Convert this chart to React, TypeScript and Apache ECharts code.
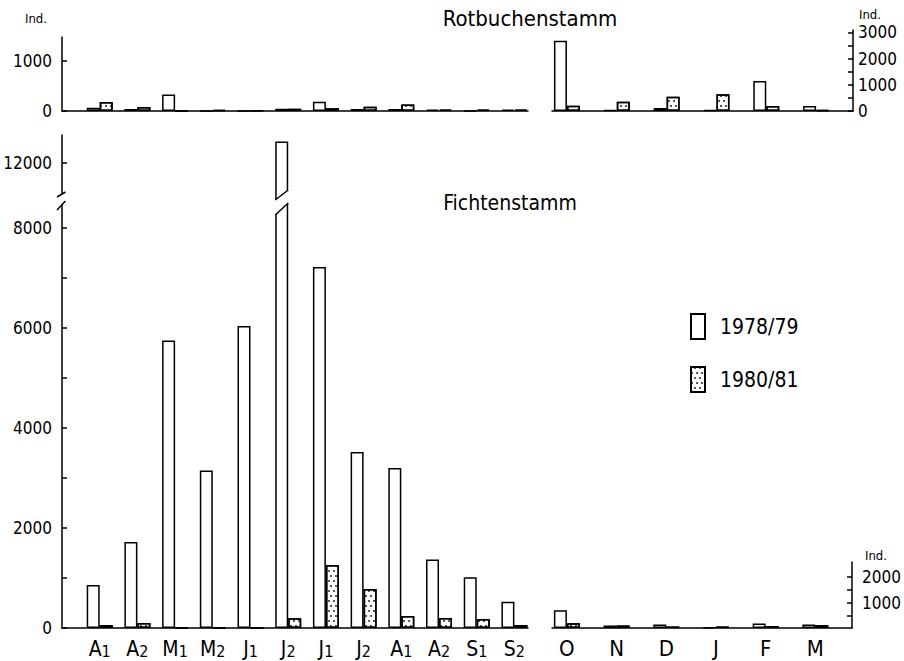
import React, { useEffect, useRef } from 'react';
import * as echarts from 'echarts';

const FONT = "'DejaVu Sans Condensed', 'DejaVu Sans', sans-serif";

// Categories
const summerLabels = ['A1', 'A2', 'M1', 'M2', 'J1', 'J2', 'J1', 'J2', 'A1', 'A2', 'S1', 'S2'];
const winterLabels = ['O', 'N', 'D', 'J', 'F', 'M'];
const seriesNames = ['1978/79', '1980/81'];

// Rotbuchenstamm (beech trunk), individuals
const beechSummer7879 = [65, 40, 330, 0, 0, 45, 185, 40, 40, 30, 0, 30];
const beechSummer8081 = [180, 80, 0, 25, 10, 45, 55, 85, 130, 30, 30, 30];
const beechWinter7879 = [2680, 40, 115, 40, 1140, 190];
const beechWinter8081 = [200, 355, 545, 635, 190, 40];

// Fichtenstamm (spruce trunk), individuals
const spruceSummer7879 = [860, 1720, 5750, 3150, 6040, 12420, 7220, 3520, 3200, 1370, 1015, 525];
const spruceSummer8081 = [60, 100, 0, 0, 0, 195, 1260, 780, 240, 200, 180, 60];
const spruceWinter7879 = [700, 100, 140, 20, 180, 140];
const spruceWinter8081 = [190, 100, 60, 60, 80, 110];

// Tick labels / tick positions
const beechSummerLabels = [0, 1000];
const beechSummerTicks = [0, 1000];
const beechWinterLabels = [0, 1000, 2000, 3000];
const beechWinterTicks = [0, 500, 1000, 1500, 2000, 2500, 3000];
const spruceUpperLabels = [12000];
const spruceLowerLabels = [0, 2000, 4000, 6000, 8000];
const spruceLowerTicks = [0, 1000, 2000, 3000, 4000, 5000, 6000, 7000, 8000];
const spruceWinterLabels = [1000, 2000];
const spruceWinterTicks = [500, 1000, 1500, 2000];

// Axis ranges
const SUMMER_X_MIN = -1;
const SUMMER_X_MAX = 11.36;
const WINTER_X_MIN = -0.3;
const WINTER_X_MAX = 5.74;
const SPRUCE_UPPER_MIN = 11250;
const SPRUCE_UPPER_MAX = 12550;
const SPRUCE_LOWER_MAX = 8500;

const BAR_W = 13;

const whiteStyle = { color: '#fff', borderColor: '#000', borderWidth: 1.5 };
const dotStyle = {
  color: '#fff',
  borderColor: '#000',
  borderWidth: 1.5,
  decal: {
    symbol: 'circle',
    symbolSize: 0.8,
    color: '#000',
    backgroundColor: '#fff',
    dashArrayX: [[2, 3], [0, 3, 2, 0]],
    dashArrayY: [2, 3],
    rotation: 0,
  },
};

const pairs = (arr: number[]) => arr.map((v, i) => [i, v]);

function bars(name: string, data: number[], style: any, axis: number) {
  return {
    type: 'bar',
    name,
    data: pairs(data),
    xAxisIndex: axis,
    yAxisIndex: axis,
    barWidth: BAR_W,
    barGap: '0%',
    clip: true,
    silent: true,
    itemStyle: style,
    emphasis: { disabled: true },
  };
}

const black = { color: '#000', width: 1.5 };

function xAxis(grid: number, min: number, max: number, opts: any = {}) {
  return {
    type: 'value',
    gridIndex: grid,
    min,
    max,
    splitLine: { show: false },
    axisTick: { show: false },
    axisLine: { show: true, onZero: false, lineStyle: black },
    axisLabel: { show: false },
    ...opts,
  };
}

function yAxis(grid: number, min: number, max: number, pos: string, labels: number[], ticks: number[], margin: number) {
  return {
    type: 'value',
    gridIndex: grid,
    min,
    max,
    position: pos,
    splitLine: { show: false },
    axisLine: { show: true, onZero: false, lineStyle: black },
    axisTick: { show: true, inside: true, length: 5, customValues: ticks, lineStyle: black },
    axisLabel: {
      show: true,
      customValues: labels,
      margin,
      formatter: (v: number) => String(v),
      color: '#000',
      fontSize: 17,
      fontFamily: FONT,
    },
  };
}

function buildOption() {
  return {
    animation: false,
    backgroundColor: '#fff',
    grid: [
      { left: 62, top: 37, width: 466, height: 74 },
      { left: 552, top: 30, width: 301, height: 81 },
      { left: 62, top: 135, width: 466, height: 65 },
      { left: 62, top: 203, width: 466, height: 425 },
      { left: 552, top: 562, width: 301, height: 66 },
    ],
    xAxis: [
      xAxis(0, SUMMER_X_MIN, SUMMER_X_MAX),
      xAxis(1, WINTER_X_MIN, WINTER_X_MAX),
      xAxis(2, SUMMER_X_MIN, SUMMER_X_MAX, { show: false }),
      xAxis(3, SUMMER_X_MIN, SUMMER_X_MAX, {
        axisLabel: {
          show: true,
          customValues: summerLabels.map((_, i) => i),
          margin: 9,
          formatter: (v: number) => {
            const s = summerLabels[Math.round(v)] || '';
            return `{m|${s.slice(0, 1)}}{s|${s.slice(1)}}`;
          },
          rich: {
            m: { fontSize: 21, fontFamily: FONT, color: '#000', lineHeight: 22, verticalAlign: 'bottom' },
            s: { fontSize: 16, fontFamily: FONT, color: '#000', lineHeight: 22, verticalAlign: 'bottom' },
          },
        },
      }),
      xAxis(4, WINTER_X_MIN, WINTER_X_MAX, {
        axisLabel: {
          show: true,
          customValues: winterLabels.map((_, i) => i),
          margin: 9,
          formatter: (v: number) => winterLabels[Math.round(v)] || '',
          color: '#000',
          fontSize: 22,
          fontFamily: FONT,
        },
      }),
    ],
    yAxis: [
      yAxis(0, 0, 1480, 'left', beechSummerLabels, beechSummerTicks, 10),
      yAxis(1, 0, 3090, 'right', beechWinterLabels, beechWinterTicks, 5),
      yAxis(2, SPRUCE_UPPER_MIN, SPRUCE_UPPER_MAX, 'left', spruceUpperLabels, spruceUpperLabels, 10),
      yAxis(3, 0, SPRUCE_LOWER_MAX, 'left', spruceLowerLabels, spruceLowerTicks, 10),
      yAxis(4, 0, 2600, 'right', spruceWinterLabels, spruceWinterTicks, 10),
    ],
    legend: {
      orient: 'vertical',
      left: 690,
      top: 313,
      padding: 0,
      itemWidth: 14,
      itemHeight: 25,
      itemGap: 26,
      icon: 'rect',
      selectedMode: false,
      data: seriesNames,
      textStyle: { fontSize: 21, fontFamily: FONT, color: '#000', padding: [0, 0, 0, 10] },
    },
    series: [
      bars(seriesNames[0], beechSummer7879, whiteStyle, 0),
      bars(seriesNames[1], beechSummer8081, dotStyle, 0),
      bars(seriesNames[0], beechWinter7879, whiteStyle, 1),
      bars(seriesNames[1], beechWinter8081, dotStyle, 1),
      bars(seriesNames[0], spruceSummer7879, whiteStyle, 2),
      bars(seriesNames[1], spruceSummer8081, dotStyle, 2),
      bars(seriesNames[0], spruceSummer7879, whiteStyle, 3),
      bars(seriesNames[1], spruceSummer8081, dotStyle, 3),
      bars(seriesNames[0], spruceWinter7879, whiteStyle, 4),
      bars(seriesNames[1], spruceWinter8081, dotStyle, 4),
    ],
  };
}

function text(t: string, x: number, y: number, size: number) {
  return {
    type: 'text',
    z: 100,
    silent: true,
    style: {
      text: t,
      x,
      y,
      fontSize: size,
      fontFamily: FONT,
      fill: '#000',
      textAlign: 'center',
      textVerticalAlign: 'middle',
    },
  };
}

export default function App() {
  const ref = useRef<HTMLDivElement>(null);
  useEffect(() => {
    if (!ref.current) return;
    const chart = echarts.init(ref.current, null, { renderer: 'svg' });
    chart.setOption(buildOption() as any);

    const jIdx = spruceSummer7879.indexOf(Math.max(...spruceSummer7879));
    const cx = chart.convertToPixel({ xAxisIndex: 3 } as any, jIdx) as unknown as number;
    const yB = chart.convertToPixel({ yAxisIndex: 2 } as any, SPRUCE_UPPER_MIN) as unknown as number;
    const yT = chart.convertToPixel({ yAxisIndex: 3 } as any, SPRUCE_LOWER_MAX) as unknown as number;
    const ax = chart.convertToPixel({ xAxisIndex: 3 } as any, SUMMER_X_MIN) as unknown as number;

    const x0 = cx - BAR_W;
    const x1 = cx;
    const up = 10; // slant rise of upper cut
    const lo = 12; // slant rise of lower cut
    const su = up / BAR_W;
    const sl = lo / BAR_W;

    const lineStyle = { stroke: '#000', lineWidth: 1.5 };

    chart.setOption({
      graphic: [
        {
          type: 'polygon',
          z: 100,
          silent: true,
          shape: {
            points: [
              [x0 - 1, yB + su],
              [x1 + 1, yB - up - su],
              [x1 + 1, yT - sl],
              [x0 - 1, yT + lo + sl],
            ],
          },
          style: { fill: '#fff' },
        },
        { type: 'line', z: 101, silent: true, shape: { x1: x0, y1: yB, x2: x1, y2: yB - up }, style: lineStyle },
        { type: 'line', z: 101, silent: true, shape: { x1: x0, y1: yT + lo, x2: x1, y2: yT }, style: lineStyle },
        // axis break on the left axis
        { type: 'rect', z: 100, silent: true, shape: { x: ax - 3, y: yB - 6, width: 6, height: yT - yB + 7 }, style: { fill: '#fff' } },
        { type: 'line', z: 101, silent: true, shape: { x1: ax - 5, y1: yB - 3, x2: ax + 3.5, y2: yB - 8 }, style: lineStyle },
        { type: 'line', z: 101, silent: true, shape: { x1: ax - 5, y1: yT + 7, x2: ax + 3.5, y2: yT - 2 }, style: lineStyle },
        text('Rotbuchenstamm', 530, 18, 22),
        text('Fichtenstamm', 510, 203, 21),
        text('Ind.', 36, 18, 13),
        text('Ind.', 870, 14, 13),
        text('Ind.', 876, 555, 13),
      ],
    } as any);

    return () => chart.dispose();
  }, []);
  return <div ref={ref} style={{ position: 'absolute', left: 0, top: 0, width: 904, height: 661 }} />;
}
